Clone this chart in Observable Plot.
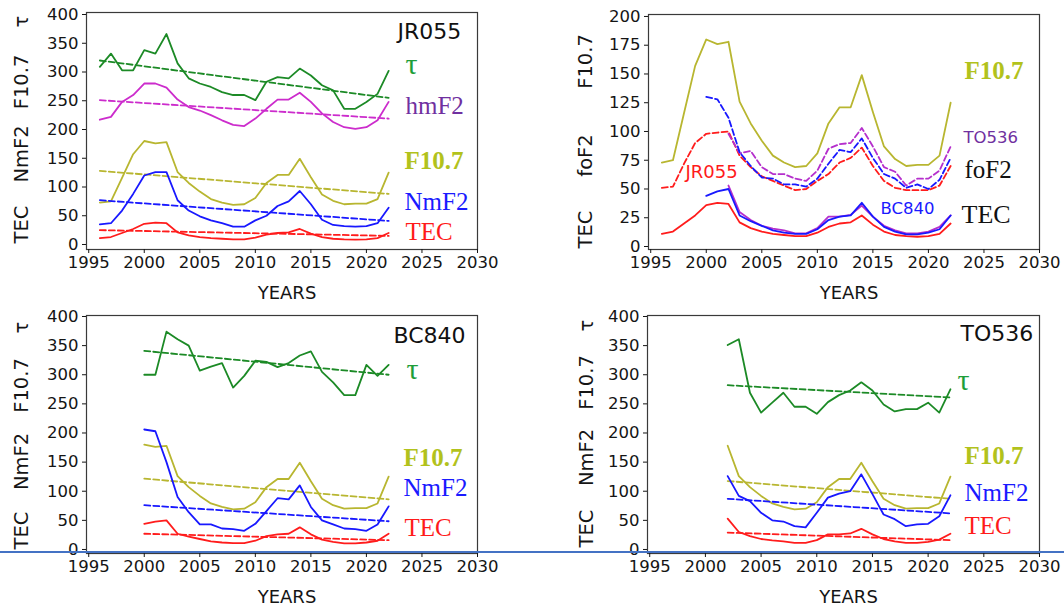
<!DOCTYPE html>
<html>
<head>
<meta charset="utf-8">
<script src="https://cdn.jsdelivr.net/npm/d3@7"></script>
<script src="https://cdn.jsdelivr.net/npm/@observablehq/plot@0.6"></script>
<style>
  html, body { margin: 0; padding: 0; background: #fff; }
  #fig { position: relative; width: 1064px; height: 610px; overflow: hidden; background: #fff; }
  #fig .panel { position: absolute; }
  #fig svg { overflow: visible; display: block; }
  #fig svg g[aria-label="x-axis tick label"],
  #fig svg g[aria-label="y-axis tick label"],
  #fig svg g[aria-label="x-axis tick label"] text,
  #fig svg g[aria-label="y-axis tick label"] text {
    font-size: 16.5px !important;
    font-family: 'DejaVu Sans', sans-serif !important;
  }
  #sep { position: absolute; left: 0; top: 551px; width: 1064px; height: 1.6px; background: #4472c4; }
</style>
</head>
<body>
<div id="fig"><div id="sep"></div></div>
<script>
// ---- Years of each station record ----
const yearsJR = [1996, 1997, 1998, 1999, 2000, 2001, 2002, 2003, 2004, 2005, 2006, 2007, 2008, 2009,
                 2010, 2011, 2012, 2013, 2014, 2015, 2016, 2017, 2018, 2019, 2020, 2021, 2022];
const yearsBC = [2000, 2001, 2002, 2003, 2004, 2005, 2006, 2007, 2008, 2009, 2010, 2011,
                 2012, 2013, 2014, 2015, 2016, 2017, 2018, 2019, 2020, 2021, 2022];
const yearsTO = [2002, 2003, 2004, 2005, 2006, 2007, 2008, 2009, 2010, 2011, 2012,
                 2013, 2014, 2015, 2016, 2017, 2018, 2019, 2020, 2021, 2022];

// ---- Axis ticks ----
const xTicks = [1995, 2000, 2005, 2010, 2015, 2020, 2025, 2030];
const yTicks400 = [0, 50, 100, 150, 200, 250, 300, 350, 400];
const yTicks200 = [0, 25, 50, 75, 100, 125, 150, 175, 200];

// ---- Solar flux F10.7, annual means 1996-2022 ----
const f107 = [73, 75, 116, 157, 180, 176, 178, 126, 107, 92, 79, 73, 69, 70,
              81, 107, 121, 121, 149, 117, 87, 76, 70, 71, 71, 79, 125];

// ---- JR055 ----
const tauJR  = [309, 332, 303, 303, 338, 332, 366, 315, 289, 280, 274, 265, 260, 260,
                251, 283, 291, 289, 306, 294, 277, 268, 236, 236, 248, 262, 302];
const hmF2JR = [217, 222, 248, 260, 280, 280, 273, 252, 239, 233, 225, 216, 208, 206,
                219, 236, 252, 252, 264, 248, 228, 213, 204, 201, 204, 216, 248];
const nmF2JR = [35, 37, 59, 88, 120, 126, 126, 77, 59, 49, 42, 37, 31, 31,
                42, 50, 67, 75, 93, 70, 43, 34, 32, 31, 32, 37, 64];
const tecJR  = [11, 13, 20, 27, 36, 38, 37, 21, 16, 13, 11, 10, 9, 9,
                12, 17, 20, 21, 27, 19, 13, 10, 9, 8.5, 9, 11, 20];
const foF2JR = [51, 52, 72, 90, 98, 99, 100, 79, 69, 61, 57, 53, 49, 50,
                57, 63, 73, 77, 86, 70, 57, 51, 49, 49, 49, 53, 70];
// linear trends (first year, last year)
const tauTrendJR  = [320, 255];
const hmF2TrendJR = [251, 219];
const f107TrendJR = [128, 88];
const nmF2TrendJR = [77, 41];
const tecTrendJR  = [25, 15];

// ---- BC840 ----
const tauBC  = [300, 300, 374, 361, 350, 307, 314, 320, 278, 298, 324, 322,
                313, 320, 333, 340, 305, 287, 265, 265, 317, 298, 317];
const nmF2BC = [206, 203, 150, 90, 64, 43, 43, 36, 35, 32, 44, 66,
                88, 86, 110, 73, 50, 43, 36, 35, 32, 43, 74];
const tecBC  = [44, 48, 50, 27, 22, 18, 14, 12, 11, 11, 15, 23,
                26, 27, 38, 26, 17, 13, 10.5, 10.5, 12, 15, 27];
const foF2BC = [130, 128, 112, 82, 70, 60, 59, 54, 54, 52, 59, 72,
                84, 82, 94, 77, 63, 59, 51, 54, 50, 58, 77];
const tauTrendBC  = [341, 300];
const f107TrendBC = [121.5, 86];
const nmF2TrendBC = [76, 48.5];
const tecTrendBC  = [27, 16];

// ---- TO536 ----
const tauTO  = [351, 361, 269, 235, 252, 269, 245, 245, 233, 253, 265,
                273, 287, 273, 249, 237, 241, 241, 252, 235, 275];
const nmF2TO = [126, 92, 83, 63, 50, 48, 40, 38, 63, 89, 96,
                100, 129, 95, 60, 52, 40, 43, 44, 57, 93];
const tecTO  = [53, 30, 23, 18, 15.5, 14, 11.5, 11.5, 16, 26, 26,
                27.5, 35.5, 26, 18, 14, 11.5, 11.5, 13, 17, 27];
const foF2TO = [98, 81, 83, 69, 63, 63, 59, 57, 66, 85, 89,
                90, 103, 87, 69, 65, 53, 59, 59, 66, 87];
const tauTrendTO  = [282, 261];
const f107TrendTO = [117.5, 87];
const nmF2TrendTO = [87, 62];
const tecTrendTO  = [29, 16];

// ---- helpers ----
const C = {
  green: "#1c8a26", magenta: "#cc2ccc", olive: "#b8b630", blue: "#1818ff",
  red: "#ff1c1c", purple: "#b52fcc",
  greenText: "#1e9e3a", purpleText: "#7030a0", oliveText: "#b2c21c",
  blueText: "#1a1aff", redText: "#ff1a1a"
};
const SANS = "'DejaVu Sans', sans-serif";
const SERIF = "'Liberation Serif', 'Times New Roman', serif";
const INK = "#151515";

const series = (years, values) => years.map((year, i) => ({year, value: values[i]}));
const trend = (years, ends) => [
  {year: years[0], value: ends[0]},
  {year: years[years.length - 1], value: ends[1]}
];
const solid = (data, stroke) =>
  Plot.line(data, {x: "year", y: "value", stroke, strokeWidth: 1.8});
const dashed = (data, stroke) =>
  Plot.line(data, {x: "year", y: "value", stroke, strokeWidth: 1.8, strokeDasharray: "6,3"});

// annotation placed relative to the top-left corner of the frame
const note = (text, dx, dy, fill, fontSize, fontFamily, fontWeight = "normal") =>
  Plot.text([text], {
    frameAnchor: "top-left", dx, dy, text: d => d, textAnchor: "start", lineAnchor: "bottom",
    fill, fontSize, fontFamily, fontWeight
  });
// rotated y-axis caption
const ycap = (text, dx, dy) =>
  Plot.text([text], {
    frameAnchor: "top-left", dx, dy, text: d => d, rotate: -90, textAnchor: "middle",
    lineAnchor: "middle", fill: INK, fontSize: 19.5, fontFamily: SANS
  });

function panel({left, top, frame, yDomain, yTicks, marks}) {
  const [fl, fr, ft, fb] = frame;
  const W = 532, H = 305;
  const chart = Plot.plot({
    width: W, height: H,
    marginLeft: fl, marginRight: W - fr, marginTop: ft, marginBottom: H - fb,
    x: {domain: [1994.8, 2030]},
    y: {domain: yDomain},
    style: {fontFamily: SANS, fontSize: "16.5px", color: INK, background: "transparent", overflow: "visible"},
    marks: [
      ...marks,
      Plot.frame({stroke: "#3a3a3a", strokeWidth: 1.2}),
      Plot.axisX({ticks: xTicks, tickSize: 4, tickPadding: 3, tickFormat: d => String(d), label: null, fontSize: 16.5}),
      Plot.axisY({ticks: yTicks, tickSize: 4, tickPadding: 4, tickFormat: d => String(d), label: null, fontSize: 16.5}),
      Plot.text(["YEARS"], {frameAnchor: "bottom", dx: 5, dy: 49, text: d => d, lineAnchor: "bottom",
                            fontSize: 18, fontFamily: SANS, fill: INK})
    ]
  });
  const div = document.createElement("div");
  div.className = "panel";
  div.style.left = left + "px";
  div.style.top = top + "px";
  div.appendChild(chart);
  document.getElementById("fig").insertBefore(div, document.getElementById("sep"));
}

// ---- JR055: tau, hmF2, F10.7, NmF2, TEC ----
panel({
  left: 0, top: 0, frame: [86, 477, 12, 249], yDomain: [-8.7, 403.5], yTicks: yTicks400,
  marks: [
    dashed(trend(yearsJR, tauTrendJR), C.green),
    solid(series(yearsJR, tauJR), C.green),
    dashed(trend(yearsJR, hmF2TrendJR), C.magenta),
    solid(series(yearsJR, hmF2JR), C.magenta),
    dashed(trend(yearsJR, f107TrendJR), C.olive),
    solid(series(yearsJR, f107), C.olive),
    dashed(trend(yearsJR, nmF2TrendJR), C.blue),
    solid(series(yearsJR, nmF2JR), C.blue),
    dashed(trend(yearsJR, tecTrendJR), C.red),
    solid(series(yearsJR, tecJR), C.red),
    note("JR055", 311, 26, "#111", 22, SANS),
    note("τ", 319, 61, C.greenText, 30, SERIF),
    note("hmF2", 319, 101, C.purpleText, 25, SERIF),
    note("F10.7", 318, 156, C.oliveText, 25, SERIF, "bold"),
    note("NmF2", 318, 197, C.blueText, 25, SERIF),
    note("TEC", 319, 227, C.redText, 25, SERIF),
    ycap("TEC", -65, 212), ycap("NmF2", -65, 141.5), ycap("F10.7", -65, 69.5), ycap("τ", -65, 9)
  ]
});

// ---- foF2 and TEC of the three stations with F10.7 ----
panel({
  left: 532, top: 0, frame: [116, 507, 14, 249], yDomain: [-2.6, 201.7], yTicks: yTicks200,
  marks: [
    solid(series(yearsJR, f107), C.olive),
    dashed(series(yearsJR, foF2JR), C.red),
    dashed(series(yearsTO, foF2TO), C.purple),
    dashed(series(yearsBC, foF2BC), C.blue),
    solid(series(yearsJR, tecJR), C.red),
    solid(series(yearsTO, tecTO), C.purple),
    solid(series(yearsBC, tecBC), C.blue),
    note("F10.7", 316, 64, C.oliveText, 25, SERIF, "bold"),
    note("TO536", 315, 128, C.purpleText, 16.5, SANS),
    note("foF2", 316, 163, "#111", 25, SERIF),
    note("TEC", 313, 208, "#111", 26, SERIF),
    note("BC840", 232, 199, C.blueText, 16.5, SANS),
    note("JR055", 37, 163, C.redText, 18, SANS),
    ycap("TEC", -63, 215), ycap("foF2", -63, 141), ycap("F10.7", -63, 47)
  ]
});

// ---- BC840: tau, F10.7, NmF2, TEC ----
panel({
  left: 0, top: 305, frame: [86, 477, 10, 248], yDomain: [-6.9, 401.7], yTicks: yTicks400,
  marks: [
    dashed(trend(yearsBC, tauTrendBC), C.green),
    solid(series(yearsBC, tauBC), C.green),
    dashed(trend(yearsBC, f107TrendBC), C.olive),
    solid(series(yearsBC, f107.slice(4)), C.olive),
    dashed(trend(yearsBC, nmF2TrendBC), C.blue),
    solid(series(yearsBC, nmF2BC), C.blue),
    dashed(trend(yearsBC, tecTrendBC), C.red),
    solid(series(yearsBC, tecBC), C.red),
    note("BC840", 307, 27, "#111", 22, SANS),
    note("τ", 320, 63, C.greenText, 30, SERIF),
    note("F10.7", 317, 150, C.oliveText, 25, SERIF, "bold"),
    note("NmF2", 317, 180, C.blueText, 25, SERIF),
    note("TEC", 318, 220, C.redText, 25, SERIF),
    ycap("TEC", -65, 215), ycap("NmF2", -65, 146), ycap("F10.7", -65, 70), ycap("τ", -65, 12)
  ]
});

// ---- TO536: tau, F10.7, NmF2, TEC ----
panel({
  left: 532, top: 305, frame: [115, 507, 10, 248], yDomain: [-6.9, 401.7], yTicks: yTicks400,
  marks: [
    dashed(trend(yearsTO, tauTrendTO), C.green),
    solid(series(yearsTO, tauTO), C.green),
    dashed(trend(yearsTO, f107TrendTO), C.olive),
    solid(series(yearsTO, f107.slice(6)), C.olive),
    dashed(trend(yearsTO, nmF2TrendTO), C.blue),
    solid(series(yearsTO, nmF2TO), C.blue),
    dashed(trend(yearsTO, tecTrendTO), C.red),
    solid(series(yearsTO, tecTO), C.red),
    note("TO536", 313, 25, "#111", 22, SANS),
    note("τ", 310, 74, C.greenText, 30, SERIF),
    note("F10.7", 317, 148, C.oliveText, 25, SERIF, "bold"),
    note("NmF2", 317, 185, C.blueText, 25, SERIF),
    note("TEC", 317, 218, C.redText, 25, SERIF),
    ycap("TEC", -61, 213), ycap("NmF2", -61, 142), ycap("F10.7", -61, 67), ycap("τ", -61, 10)
  ]
});
</script>
</body>
</html>
